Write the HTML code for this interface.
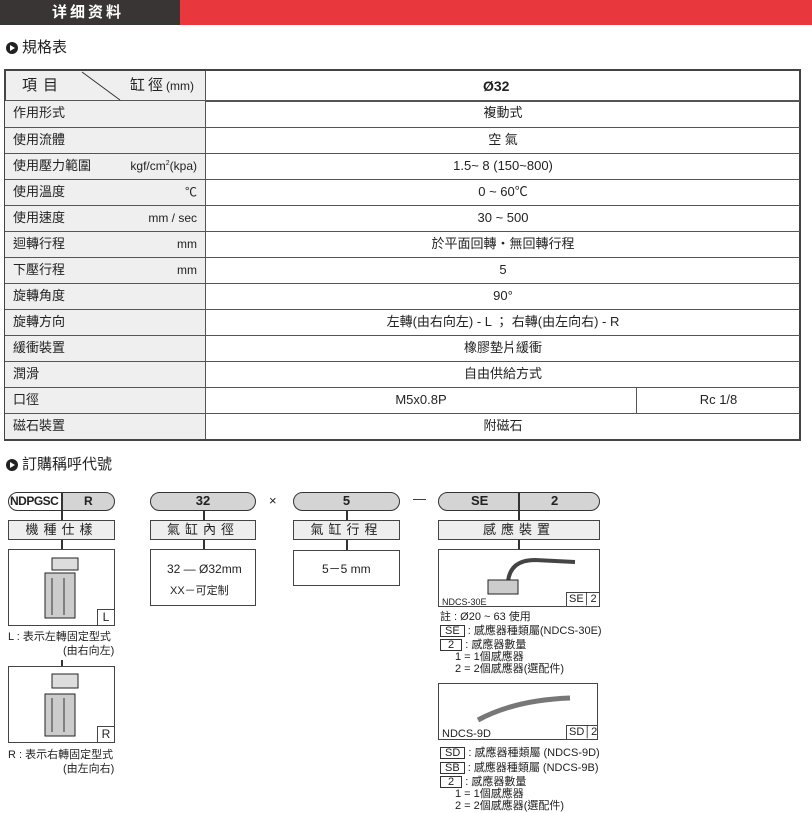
<!DOCTYPE html>
<html><head><meta charset="utf-8"><style>
*{margin:0;padding:0;box-sizing:border-box}
body{width:812px;height:813px;background:#fff;position:relative;font-family:"Liberation Sans","Noto Sans CJK TC",sans-serif;color:#222;overflow:hidden}
.a{position:absolute}
.t{position:absolute;font-size:13px;white-space:nowrap;line-height:1}
.row{position:absolute;left:5px;width:795px;height:26px;border-top:1px solid #555}
.lab{position:absolute;left:0;top:0;width:201px;height:100%;background:#efefef;border-right:1px solid #555;font-size:13px;padding-left:8px;line-height:24px}
.val{position:absolute;left:201px;right:0;top:0;height:100%;text-align:center;font-size:13px;line-height:24px}
.unit{position:absolute;right:8px;top:0;font-size:12px;line-height:24px}
.pill{position:absolute;height:19px;border:1.5px solid #333;border-radius:10px;background:#d4d4d4;font-weight:bold;font-size:13px;text-align:center;line-height:16px}
.lb{position:absolute;height:20px;border:1.5px solid #444;background:#eee;text-align:center;font-size:13px;line-height:17px;letter-spacing:5px}
.bx{position:absolute;border:1.5px solid #444;background:#fff}
.vl{position:absolute;width:1.5px;background:#333}
.sm{font-size:11px;position:absolute;white-space:nowrap;line-height:12px}
.tag{display:inline-block;border:1px solid #333;padding:0 4px;line-height:10px;font-size:11px}
</style></head><body>
<div class="a" style="left:0;top:0;width:180px;height:25px;background:#3a3535"></div>
<div class="a" style="left:180px;top:0;width:632px;height:25px;background:#e8383d"></div>
<div class="t" style="left:52px;top:5px;color:#fff;font-weight:bold;font-size:15px;letter-spacing:3px">详细资料</div>
<div class="a" style="left:6px;top:42px;width:12px;height:12px;border-radius:6px;background:#222"></div>
<div class="a" style="left:10px;top:45px;border-left:5px solid #fff;border-top:3px solid transparent;border-bottom:3px solid transparent"></div>
<div class="t" style="left:22px;top:40px;font-size:15px">規格表</div>

<div class="a" style="left:4px;top:69px;width:797px;height:372px;border:2px solid #444"></div>
<div class="a" style="left:6px;top:71px;width:200px;height:30px;background:#efefef;border-right:1px solid #555"></div>
<div class="t" style="left:22px;top:78px;font-size:15px;letter-spacing:6px">項目</div>
<svg class="a" style="left:80px;top:71px" width="50" height="30"><line x1="2" y1="1" x2="40" y2="29" stroke="#333"/></svg>
<div class="t" style="left:130px;top:78px;font-size:15px;letter-spacing:3px">缸徑<span style="font-size:12px;letter-spacing:0">(mm)</span></div>
<div class="t" style="left:483px;top:79px;font-weight:bold;font-size:14px">Ø32</div>
<div class="a" style="left:5px;top:100px;width:795px;border-top:2px solid #555"></div>

<div class="row" style="top:101px;border-top:none"><div class="lab">作用形式</div><div class="val">複動式</div></div>
<div class="row" style="top:127px"><div class="lab">使用流體</div><div class="val">空 氣</div></div>
<div class="row" style="top:153px"><div class="lab">使用壓力範圍<span class="unit">kgf/cm<sup style="font-size:7px;line-height:0">2</sup>(kpa)</span></div><div class="val">1.5~ 8 (150~800)</div></div>
<div class="row" style="top:179px"><div class="lab">使用溫度<span class="unit">℃</span></div><div class="val">0 ~ 60℃</div></div>
<div class="row" style="top:205px"><div class="lab">使用速度<span class="unit">mm / sec</span></div><div class="val">30 ~ 500</div></div>
<div class="row" style="top:231px"><div class="lab">迴轉行程<span class="unit">mm</span></div><div class="val">於平面回轉‧無回轉行程</div></div>
<div class="row" style="top:257px"><div class="lab">下壓行程<span class="unit">mm</span></div><div class="val">5</div></div>
<div class="row" style="top:283px"><div class="lab">旋轉角度</div><div class="val">90°</div></div>
<div class="row" style="top:309px"><div class="lab">旋轉方向</div><div class="val">左轉(由右向左) - L ； 右轉(由左向右) - R</div></div>
<div class="row" style="top:335px"><div class="lab">緩衝裝置</div><div class="val">橡膠墊片緩衝</div></div>
<div class="row" style="top:361px"><div class="lab">潤滑</div><div class="val">自由供給方式</div></div>
<div class="row" style="top:387px"><div class="lab">口徑</div><div class="val" style="right:164px">M5x0.8P</div><div class="val" style="left:631px;border-left:1px solid #555">Rc 1/8</div></div>
<div class="row" style="top:413px"><div class="lab">磁石裝置</div><div class="val">附磁石</div></div>

<div class="a" style="left:6px;top:459px;width:12px;height:12px;border-radius:6px;background:#222"></div>
<div class="a" style="left:10px;top:462px;border-left:5px solid #fff;border-top:3px solid transparent;border-bottom:3px solid transparent"></div>
<div class="t" style="left:22px;top:457px;font-size:15px">訂購稱呼代號</div>

<!-- col1 -->
<div class="pill" style="left:8px;top:492px;width:107px;font-size:12px;background:linear-gradient(90deg,#fff 0 53px,#d4d4d4 53px)"><span style="position:absolute;left:1px;letter-spacing:-0.5px">NDPGSC</span><span style="position:absolute;left:75px">R</span></div>
<div class="vl" style="left:61px;top:492px;height:28px"></div>
<div class="lb" style="left:8px;top:520px;width:107px">機種仕樣</div>
<div class="vl" style="left:61px;top:540px;height:9px"></div>
<div class="bx" style="left:8px;top:549px;width:107px;height:77px"></div>
<svg class="a" style="left:40px;top:553px" width="50" height="70"><rect x="5" y="20" width="30" height="45" fill="#ccc" stroke="#222"/><rect x="12" y="5" width="26" height="12" fill="#ddd" stroke="#222"/><line x1="12" y1="25" x2="12" y2="62" stroke="#333"/><line x1="24" y1="25" x2="24" y2="62" stroke="#333"/></svg>
<div class="bx" style="left:97px;top:609px;width:18px;height:17px;font-size:12px;text-align:center;line-height:14px">L</div>
<div class="sm" style="left:8px;top:631px">L : 表示左轉固定型式</div>
<div class="sm" style="left:63px;top:645px">(由右向左)</div>
<div class="vl" style="left:61px;top:660px;height:6px"></div>
<div class="bx" style="left:8px;top:666px;width:107px;height:77px"></div>
<svg class="a" style="left:40px;top:670px" width="50" height="70"><rect x="5" y="24" width="30" height="42" fill="#ccc" stroke="#222"/><rect x="12" y="4" width="26" height="14" fill="#ddd" stroke="#222"/><line x1="12" y1="28" x2="12" y2="62" stroke="#333"/><line x1="24" y1="28" x2="24" y2="62" stroke="#333"/></svg>
<div class="bx" style="left:97px;top:726px;width:18px;height:17px;font-size:12px;text-align:center;line-height:14px">R</div>
<div class="sm" style="left:8px;top:749px">R : 表示右轉固定型式</div>
<div class="sm" style="left:63px;top:763px">(由左向右)</div>

<!-- col2 -->
<div class="pill" style="left:150px;top:492px;width:106px">32</div>
<div class="vl" style="left:203px;top:510px;height:10px"></div>
<div class="lb" style="left:150px;top:520px;width:106px">氣缸內徑</div>
<div class="vl" style="left:203px;top:540px;height:9px"></div>
<div class="bx" style="left:150px;top:549px;width:106px;height:57px"></div>
<div class="sm" style="left:167px;top:563px;font-size:12px">32 — Ø32mm</div>
<div class="sm" style="left:170px;top:585px">XX－可定制</div>
<div class="t" style="left:269px;top:494px">×</div>

<!-- col3 -->
<div class="pill" style="left:293px;top:492px;width:107px">5</div>
<div class="vl" style="left:346px;top:510px;height:10px"></div>
<div class="lb" style="left:293px;top:520px;width:107px">氣缸行程</div>
<div class="vl" style="left:346px;top:540px;height:10px"></div>
<div class="bx" style="left:293px;top:550px;width:107px;height:36px"></div>
<div class="sm" style="left:322px;top:563px;font-size:12px">5－5 mm</div>
<div class="t" style="left:413px;top:492px">—</div>

<!-- col4 -->
<div class="pill" style="left:438px;top:492px;width:162px"><span style="position:absolute;left:32px">SE</span><span style="position:absolute;left:112px">2</span></div>
<div class="vl" style="left:518px;top:492px;height:28px"></div>
<div class="lb" style="left:438px;top:520px;width:162px">感應裝置</div>
<div class="vl" style="left:518px;top:540px;height:9px"></div>
<div class="bx" style="left:438px;top:549px;width:162px;height:58px"></div>
<svg class="a" style="left:480px;top:552px" width="115" height="50"><path d="M28 30 Q30 8 55 8 L95 10" stroke="#444" stroke-width="4" fill="none"/><rect x="8" y="28" width="30" height="14" fill="#ccc" stroke="#222"/></svg>
<div class="sm" style="left:442px;top:596px;font-size:9px">NDCS-30E</div>
<div class="bx" style="left:566px;top:592px;width:34px;height:15px;font-size:11px;line-height:12px;padding-left:2px">SE│2</div>
<div class="sm" style="left:440px;top:611px">註 : Ø20 ~ 63 使用</div>
<div class="sm" style="left:440px;top:625px"><span class="tag">SE</span> : 感應器種類屬(NDCS-30E)</div>
<div class="sm" style="left:440px;top:639px"><span class="tag">&nbsp;2&nbsp;</span> : 感應器數量</div>
<div class="sm" style="left:455px;top:651px">1 = 1個感應器</div>
<div class="sm" style="left:455px;top:663px">2 = 2個感應器(選配件)</div>
<div class="bx" style="left:438px;top:683px;width:160px;height:57px"></div>
<svg class="a" style="left:470px;top:690px" width="115" height="40"><path d="M8 30 Q45 10 100 8" stroke="#777" stroke-width="5" fill="none"/></svg>
<div class="sm" style="left:442px;top:728px">NDCS-9D</div>
<div class="bx" style="left:566px;top:725px;width:32px;height:15px;font-size:11px;line-height:12px;padding-left:2px">SD│2</div>
<div class="sm" style="left:440px;top:747px"><span class="tag">SD</span> : 感應器種類屬 (NDCS-9D)</div>
<div class="sm" style="left:440px;top:762px"><span class="tag">SB</span> : 感應器種類屬 (NDCS-9B)</div>
<div class="sm" style="left:440px;top:776px"><span class="tag">&nbsp;2&nbsp;</span> : 感應器數量</div>
<div class="sm" style="left:455px;top:788px">1 = 1個感應器</div>
<div class="sm" style="left:455px;top:800px">2 = 2個感應器(選配件)</div>
</body></html>
